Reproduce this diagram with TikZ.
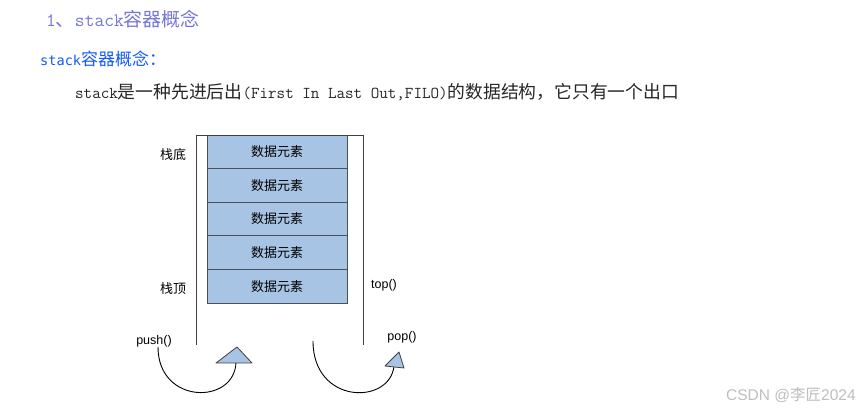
\documentclass[tikz,border=0pt]{standalone}
\usepackage{fontspec}
\setmainfont{Liberation Sans}
\newfontfamily\cjk{Noto Sans CJK SC}
\newfontfamily\dvmono{DejaVu Sans Mono}
\definecolor{titlec}{RGB}{118,118,218}
\definecolor{subc}{RGB}{20,90,250}
\definecolor{cellfill}{RGB}{168,196,228}
\definecolor{cellline}{RGB}{70,80,95}
\definecolor{frame}{RGB}{64,64,64}
\definecolor{mark}{RGB}{190,190,190}
\tikzset{
  cell/.style={draw=cellline, line width=0.9pt, fill=cellfill, minimum width=140pt,
    minimum height=33.6pt, inner sep=0pt, font=\cjk\fontsize{13}{15}\selectfont},
  lbl/.style={inner sep=0pt, font=\cjk\fontsize{13}{15}\selectfont},
  fn/.style={inner sep=0pt, font=\fontsize{12.5}{14}\selectfont},
  tri/.style={draw=frame, line width=0.8pt, fill=cellfill, line join=round},
  curve/.style={draw=black, line width=0.9pt},
  txt/.style={inner sep=0pt, anchor=west}
}
\begin{document}
\begin{tikzpicture}[x=1pt, y=-1pt]
\useasboundingbox (0,0) rectangle (865,411);
\fill[white] (0,0) rectangle (865,411);

% headings and description
\node[txt, text=titlec, font=\fontsize{19}{21}\selectfont] (title) at (46,19)
  {{\ttfamily 1}{\cjk 、}{\ttfamily stack}{\cjk 容器概念}};
\node[txt, text=subc] (sub) at (40,59)
  {{\dvmono\fontsize{13.6}{16}\selectfont stack}{\cjk\fontsize{17}{19}\selectfont 容器概念：}};
\node[txt, text=black!85] (desc) at (75,92)
  {{\ttfamily\fontsize{16.6}{19}\selectfont stack}{\cjk\fontsize{17.8}{19}\selectfont 是一种先进后出}{\ttfamily\fontsize{16.6}{19}\selectfont (First In Last Out,FILO)}{\cjk\fontsize{17.8}{19}\selectfont 的数据结构，它只有一个出口}};

% stack cells
\foreach \i in {1,...,5} {
  \node[cell] (c\i) at (277, {135+33.6*(\i-0.5)}) {数据元素};
}

% container walls
\coordinate (wl) at (196,345);
\coordinate (wr) at (363,345);
\draw[frame, line width=0.9pt] (wl) -- (196,135) -- (363,135) -- (wr);

% side labels
\node[lbl] (bottom) at (173,155) {栈底};
\node[lbl] (topl) at (173,289) {栈顶};
\node[fn] (topf) at (384,285) {top()};
\node[fn] (push) at (154,341) {push()};
\node[fn] (pop) at (402,337) {pop()};

% push arrow
\coordinate (ps) at (158,347);
\coordinate (pe) at (236,362);
\draw[curve] (ps) .. controls (158,405) and (235,405) .. (pe);
\draw[tri] (216,363) -- (252,363) -- (237,347) -- cycle;

% pop arrow
\coordinate (qs) at (313,341);
\coordinate (qe) at (394,366);
\draw[curve] (qs) .. controls (313,405) and (390,405) .. (qe);
\draw[tri] (385,366) -- (404,368) -- (399,352) -- cycle;

% watermark
\node[txt, text=mark, font=\fontsize{15.5}{17}\selectfont] (wm) at (726,395)
  {CSDN @{\cjk 李匠}2024};
\end{tikzpicture}
\end{document}
